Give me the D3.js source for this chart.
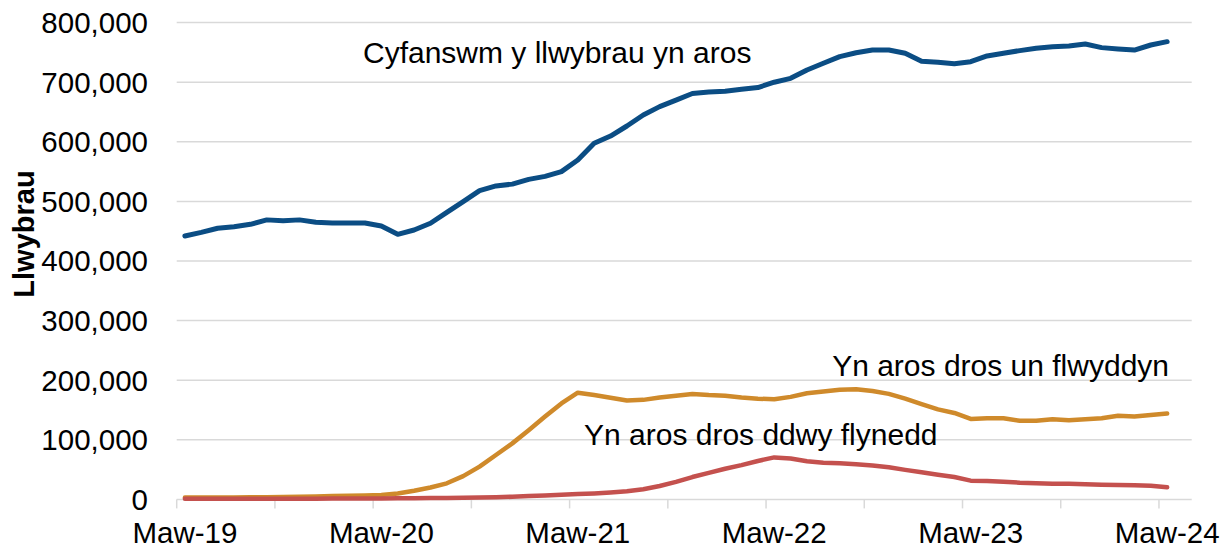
<!DOCTYPE html>
<html>
<head>
<meta charset="utf-8">
<script src="https://cdn.jsdelivr.net/npm/d3@7"></script>
<style>
  html, body { margin: 0; padding: 0; background: #fff; }
  svg { display: block; }
  text { font-family: "Liberation Sans", Arial, sans-serif; fill: #000; }
</style>
</head>
<body>
<svg id="chart" width="1228" height="551"></svg>
<script>
// ---- Data (monthly, Mawrth 2019 – Mawrth 2024) ----
const monthNames = ["Ion","Chwe","Maw","Ebr","Mai","Meh","Gor","Awst","Medi","Hyd","Tach","Rhag"];
const months = d3.range(61).map(i => {
  const m = (2 + i) % 12;
  const yr = 19 + Math.floor((2 + i) / 12);
  return monthNames[m] + "-" + yr;
});

const totalPathways = [
  442000, 448000, 455000, 457500, 461500, 469000, 467600, 469000, 465000, 463800,
  463800, 463800, 458700, 444800, 452000, 463300, 481700, 499500, 518000, 526000,
  529000, 537000, 542000, 550000, 569500, 597500, 609700, 626500, 645000, 659000,
  670000, 681000, 683500, 685000, 688000, 691000, 700000, 706500, 720500, 731700,
  742800, 749500, 754000, 754000, 748500, 735000, 733500, 731000, 734400, 744000,
  748500, 753000, 757000, 759600, 760700, 764000, 758000, 755700, 754000, 762400,
  768000
];

const overOneYear = [
  3000, 3000, 3200, 3300, 3500, 3800, 4000, 4500, 5000, 5500,
  6000, 6500, 7500, 10000, 14500, 20000, 27000, 39000, 55000, 74500,
  94000, 116000, 139000, 161000, 179000, 175000, 170600, 166000, 167000, 171000,
  174000, 177000, 175000, 174000, 171000, 169000, 168000, 172000, 178000, 181000,
  184000, 185000, 182000, 177000, 169000, 160000, 151000, 145000, 135000, 136000,
  136000, 132000, 132000, 134500, 133000, 134500, 136000, 140500, 139000, 141500,
  144000
];

const overTwoYears = [
  1000, 1000, 1000, 1100, 1100, 1200, 1200, 1300, 1300, 1400,
  1400, 1500, 1500, 1800, 2000, 2200, 2500, 2800, 3000, 3500,
  4500, 5500, 6500, 8000, 9000, 10000, 11500, 13500, 17000, 22500,
  29500, 37500, 44500, 51500, 57500, 64500, 70500, 68500, 64000, 61500,
  60500, 59000, 57000, 54000, 49500, 45500, 41500, 37500, 31500, 31000,
  29800, 28000, 27000, 26400, 26300, 25300, 24700, 24200, 23600, 23000,
  20300
];

const yTicks = [0, 100000, 200000, 300000, 400000, 500000, 600000, 700000, 800000];
const xLabelIdx = [0, 12, 24, 36, 48, 60];

const seriesNames = ["Cyfanswm y llwybrau yn aros", "Yn aros dros un flwyddyn", "Yn aros dros ddwy flynedd"];
const seriesColors = ["#0b4d84", "#cf8a2b", "#c4514e"];
const yTitle = "Llwybrau";

// ---- Layout ----
const svg = d3.select("#chart");
const plotLeft = 176.7, plotRight = 1191.7, plotTop = 22.6, plotBottom = 499.4;

const x = d3.scaleLinear().domain([-0.5, 61.5]).range([plotLeft, plotRight]);
const y = d3.scaleLinear().domain([0, 800000]).range([plotBottom, plotTop]);

// gridlines
svg.append("g").selectAll("line")
  .data(yTicks.filter(v => v > 0))
  .join("line")
  .attr("x1", plotLeft).attr("x2", plotRight)
  .attr("y1", d => y(d)).attr("y2", d => y(d))
  .attr("stroke", "#d9d9d9").attr("stroke-width", 1.5);

// y tick labels
const fmt = d3.format(",");
svg.append("g").selectAll("text")
  .data(yTicks)
  .join("text")
  .attr("x", 148)
  .attr("y", d => y(d))
  .attr("dy", "0.355em")
  .attr("text-anchor", "end")
  .attr("font-size", 29.5)
  .text(d => fmt(d));

// x axis line and ticks (category boundaries every 6 months)
svg.append("line")
  .attr("x1", plotLeft).attr("x2", plotRight)
  .attr("y1", plotBottom).attr("y2", plotBottom)
  .attr("stroke", "#d9d9d9").attr("stroke-width", 1.5);

const tickIdx = d3.range(-0.5, 60, 6);
svg.append("g").selectAll("line")
  .data(tickIdx)
  .join("line")
  .attr("x1", d => x(d)).attr("x2", d => x(d))
  .attr("y1", plotBottom).attr("y2", plotBottom + 9)
  .attr("stroke", "#d9d9d9").attr("stroke-width", 1.5);

// x labels
svg.append("g").selectAll("text")
  .data(xLabelIdx)
  .join("text")
  .attr("x", d => x(d))
  .attr("y", 543)
  .attr("text-anchor", "middle")
  .attr("font-size", 29.5)
  .text(d => months[d]);

// y title
svg.append("text")
  .attr("transform", "translate(34,234) rotate(-90)")
  .attr("text-anchor", "middle")
  .attr("font-size", 29)
  .attr("font-weight", "bold")
  .text(yTitle);

// lines
const line = d3.line().x((d, i) => x(i)).y(d => y(d));
[totalPathways, overOneYear, overTwoYears].forEach((s, k) => {
  svg.append("path")
    .datum(s)
    .attr("d", line)
    .attr("fill", "none")
    .attr("stroke", seriesColors[k])
    .attr("stroke-width", k === 0 ? 5 : 4.5)
    .attr("stroke-linejoin", "round")
    .attr("stroke-linecap", "round");
});

// series labels
svg.append("text").attr("x", 363).attr("y", 63).attr("font-size", 30).text(seriesNames[0]);
svg.append("text").attr("x", 1169).attr("y", 376).attr("text-anchor", "end").attr("font-size", 30).text(seriesNames[1]);
svg.append("text").attr("x", 584).attr("y", 445).attr("font-size", 30).text(seriesNames[2]);
</script>
</body>
</html>
